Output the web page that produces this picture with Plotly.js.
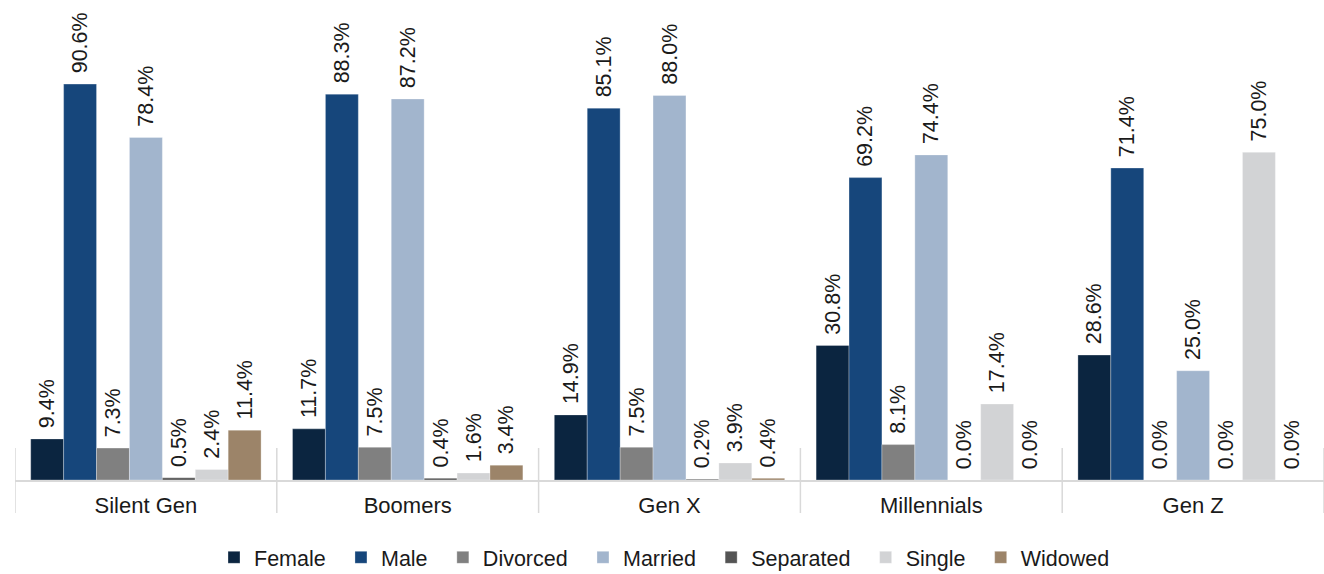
<!DOCTYPE html>
<html><head><meta charset="utf-8">
<script src="https://cdn.plot.ly/plotly-3.0.1.min.js"></script>
<style>html,body{margin:0;padding:0;background:#fff;}#chart{width:1324px;height:574px;}</style>
</head><body><div id="chart"></div>
<script>
const categories = ["Silent Gen", "Boomers", "Gen X", "Millennials", "Gen Z"];
const seriesNames = ["Female", "Male", "Divorced", "Married", "Separated", "Single", "Widowed"];
const female    = [9.4, 11.7, 14.9, 30.8, 28.6];
const male      = [90.6, 88.3, 85.1, 69.2, 71.4];
const divorced  = [7.3, 7.5, 7.5, 8.1, 0.0];
const married   = [78.4, 87.2, 88.0, 74.4, 25.0];
const separated = [0.5, 0.4, 0.2, 0.0, 0.0];
const single    = [2.4, 1.6, 3.9, 17.4, 75.0];
const widowed   = [11.4, 3.4, 0.4, 0.0, 0.0];

const seriesValues = [female, male, divorced, married, separated, single, widowed];
const colors = ["#0b2540", "#16467b", "#808080", "#a2b5cd", "#545454", "#d2d3d5", "#9c8469"];
const FONT = "Liberation Sans, Arial, sans-serif";

const traces = seriesNames.map((n, i) => ({
  type: "bar",
  name: n + "\u00A0\u2009",
  x: categories,
  y: seriesValues[i],
  text: seriesValues[i].map(v => "\u00A0\u200A" + v.toFixed(1) + "%"),
  textposition: "outside",
  textangle: -90,
  cliponaxis: false,
  constraintext: "none",
  textfont: {family: FONT, size: 21.5, color: "#1a1a1a"},
  marker: {color: colors[i], line: {color: "rgba(255,255,255,0.6)", width: 0.5}},
  hoverinfo: "skip"
}));

const plotH = 475;
const shapes = [];
for (let i = 0; i <= categories.length; i++) {
  shapes.push({type: "line", xref: "x", yref: "paper", x0: i - 0.5, x1: i - 0.5,
    y0: -33 / plotH, y1: 32 / plotH, line: {color: "#d9d9d9", width: 1.5}});
}

const layout = {
  width: 1324, height: 574,
  margin: {l: 15, r: 0, t: 5, b: 94},
  paper_bgcolor: "#fff", plot_bgcolor: "#fff",
  showlegend: true,
  barmode: "group",
  bargap: 0.12,
  bargroupgap: 0,
  font: {family: FONT, color: "#1a1a1a"},
  xaxis: {
    type: "category",
    range: [-0.5, 4.5],
    showline: true, linecolor: "#d9d9d9", linewidth: 1.5,
    ticks: "", showgrid: false,
    tickfont: {family: FONT, size: 22, color: "#1a1a1a"},
    ticklabelstandoff: 5,
    automargin: false
  },
  yaxis: {range: [0, 108.7], visible: false, showgrid: false, zeroline: false},
  legend: {
    orientation: "h", x: 0.5, xanchor: "center",
    yref: "container", y: 0.029, yanchor: "middle",
    font: {family: FONT, size: 21.5, color: "#1a1a1a"},
    itemwidth: 30, traceorder: "normal"
  },
  shapes: shapes
};

Plotly.newPlot("chart", traces, layout, {displayModeBar: false, staticPlot: true});
</script></body></html>
